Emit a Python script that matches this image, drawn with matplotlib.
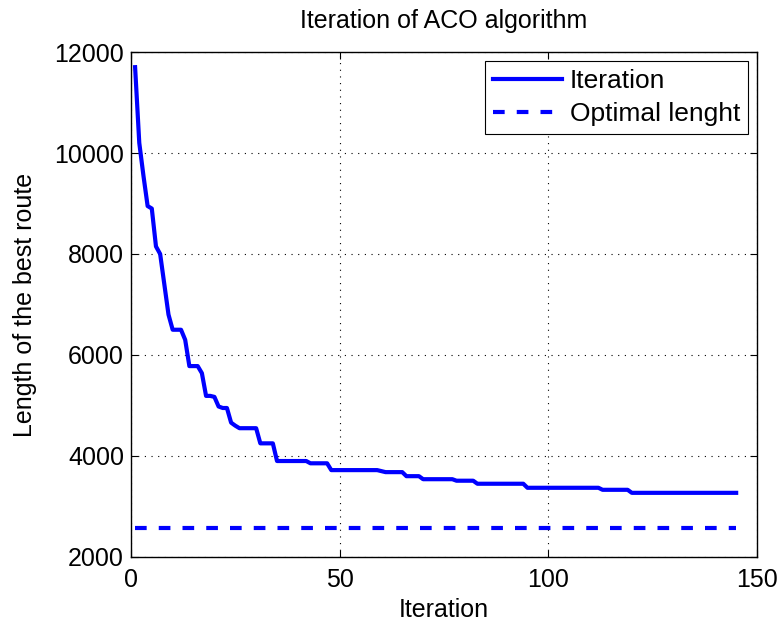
import numpy as np
import matplotlib.pyplot as plt

# best route length per iteration
best_len = [11700, 10200, 9550, 8950, 8900, 8150, 8000, 7400, 6800, 6500,
            6500, 6500, 6300, 5780, 5780, 5780, 5640, 5190, 5190, 5170,
            4980, 4950, 4950, 4660, 4600, 4550, 4550, 4550, 4550, 4550,
            4250, 4250, 4250, 4250]
best_len += [3900] * 8      # 35-42
best_len += [3855] * 5      # 43-47
best_len += [3720] * 12     # 48-59
best_len += [3700]          # 60
best_len += [3680] * 5      # 61-65
best_len += [3600] * 4      # 66-69
best_len += [3540] * 8      # 70-77
best_len += [3510] * 5      # 78-82
best_len += [3450] * 12     # 83-94
best_len += [3370] * 18     # 95-112
best_len += [3330] * 7      # 113-119
best_len += [3270] * 26     # 120-145
iterations = np.arange(1, len(best_len) + 1)
optimal_len = 2580

plt.rcParams['font.family'] = ['Liberation Sans', 'DejaVu Sans']
fs = 18

fig = plt.figure(figsize=(7.84, 6.23), dpi=100)
ax = fig.add_axes([0.167, 0.106, 0.7986, 0.8105])

ax.plot(iterations, best_len, color='#0000ff', linewidth=3, label='Iteration')
ax.plot(iterations, [optimal_len] * len(iterations), color='#0000ff',
        linewidth=3, dashes=(2.8, 2.9), label='Optimal lenght')

ax.set_xlim(0, 150)
ax.set_ylim(2000, 12000)
ax.set_xticks([0, 50, 100, 150])
ax.set_yticks(range(2000, 12001, 2000))
ax.tick_params(direction='in', top=True, right=True, length=5, width=0.8,
               labelsize=fs)
ax.tick_params(axis='x', pad=8)
ax.tick_params(axis='y', pad=5)
ax.grid(True, linestyle=(0, (1, 5)), color='black', linewidth=0.8)
for s in ax.spines.values():
    s.set_linewidth(1.0)

ax.set_title('Iteration of ACO algorithm', fontsize=fs, pad=17)
ax.set_xlabel('Iteration', fontsize=fs, labelpad=4)
ax.set_ylabel('Length of the best route', fontsize=fs, labelpad=12)

leg = ax.legend(loc='upper right', fontsize=19, handlelength=2.6,
                fancybox=False, framealpha=1, edgecolor='black',
                borderpad=0.3, labelspacing=0.35, handletextpad=0.3,
                borderaxespad=0.35)
leg.get_frame().set_linewidth(0.8)

plt.savefig('out.png', dpi=100)
